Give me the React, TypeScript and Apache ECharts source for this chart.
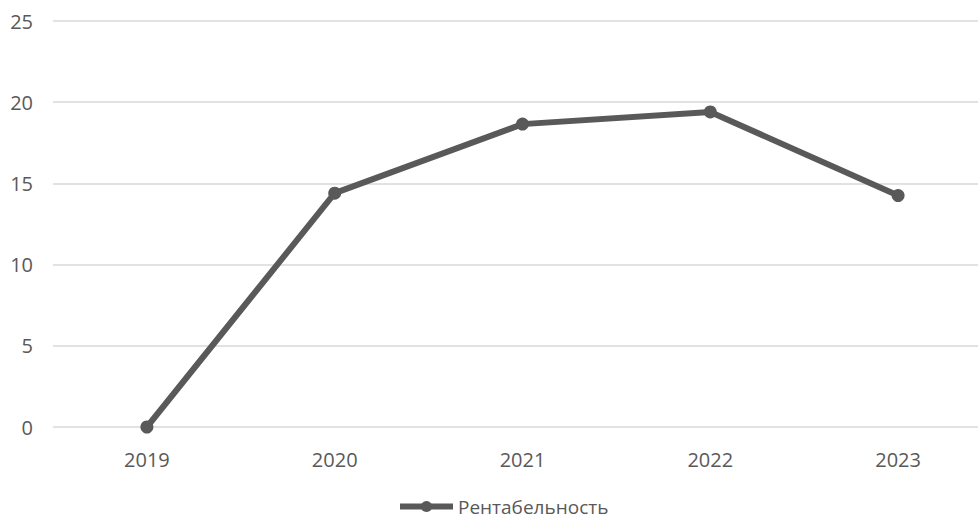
import React, { useEffect, useRef } from "react";
import * as echarts from "echarts";

const years = ["2019", "2020", "2021", "2022", "2023"];
const profitability = [0, 14.4, 18.65, 19.4, 14.25];
const seriesName = "Рентабельность";

export default function App() {
  const ref = useRef<HTMLDivElement>(null);
  useEffect(() => {
    if (!ref.current) return;
    const chart = echarts.init(ref.current, undefined, { renderer: "svg" });
    const textColor = "#595959";
    chart.setOption({
      animation: false,
      backgroundColor: "#ffffff",
      textStyle: { fontFamily: "Open Sans" },
      grid: { left: 53, right: 8, top: 21, bottom: 94, containLabel: false },
      legend: {
        data: [seriesName],
        top: 497,
        left: 397,
        padding: 0,
        itemWidth: 53,
        itemHeight: 14,
        itemGap: 8,
        lineStyle: { width: 6, color: "#595959" },
        itemStyle: { color: "#595959" },
        textStyle: { color: textColor, fontSize: 19, lineHeight: 19, fontFamily: "Open Sans" },
      },
      xAxis: {
        type: "category",
        data: years,
        boundaryGap: true,
        axisLine: { show: false },
        axisTick: { show: false },
        axisLabel: { color: textColor, fontSize: 20, margin: 22, fontFamily: "Open Sans" },
      },
      yAxis: {
        type: "value",
        min: 0,
        max: 25,
        interval: 5,
        axisLine: { show: false },
        axisTick: { show: false },
        axisLabel: { color: textColor, fontSize: 20, margin: 20, fontFamily: "Open Sans" },
        splitLine: { lineStyle: { color: "#d9d9d9", width: 1.5 } },
      },
      series: [
        {
          name: seriesName,
          type: "line",
          data: profitability,
          symbol: "circle",
          symbolSize: 13,
          lineStyle: { color: "#595959", width: 6 },
          itemStyle: { color: "#595959" },
        },
      ],
    });
    return () => chart.dispose();
  }, []);
  return (
    <div style={{ width: 978, height: 521, overflow: "hidden", position: "fixed", left: 0, top: 0, background: "#fff" }}>
      <div ref={ref} style={{ width: 1000, height: 521, position: "absolute", left: 0, top: 0 }} />
    </div>
  );
}
